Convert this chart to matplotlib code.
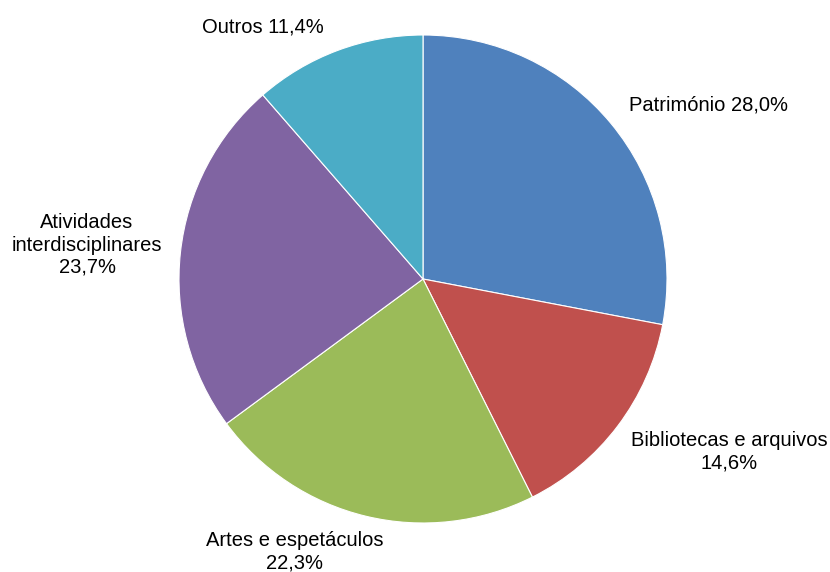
import matplotlib
matplotlib.use("Agg")
import matplotlib.pyplot as plt

categories = ["Património", "Bibliotecas e arquivos", "Artes e espetáculos",
              "Atividades interdisciplinares", "Outros"]
values = [28.0, 14.6, 22.3, 23.7, 11.4]
label_texts = ["Património 28,0%", "Bibliotecas e arquivos\n14,6%",
               "Artes e espetáculos\n22,3%", "Atividades\ninterdisciplinares\n23,7%",
               "Outros 11,4%"]
colors = ["#4F81BD", "#C0504D", "#9BBB59", "#8064A2", "#4BACC6"]

# label positions in data units (radius = 1)
label_pos = [(1.172, 0.713), (1.256, -0.709), (-0.525, -1.119), (-1.377, 0.139), (-0.656, 1.033)]

plt.rcParams['font.family'] = ['Liberation Sans', 'DejaVu Sans']

fig = plt.figure(figsize=(8.30, 5.72), dpi=100)
ax = fig.add_axes([179/830, 49/572, 488/830, 488/572])
ax.pie(values, colors=colors, startangle=90, counterclock=False,
       wedgeprops=dict(edgecolor='white', linewidth=0.8))
ax.set_xlim(-1, 1)
ax.set_ylim(-1, 1)
ax.set_aspect('equal')
ax.axis('off')
for txt, (x, y) in zip(label_texts, label_pos):
    ax.text(x, y, txt, ha='center', va='center', fontsize=14.5, clip_on=False,
            linespacing=1.22, color='black')

fig.savefig("out.png", dpi=100)
